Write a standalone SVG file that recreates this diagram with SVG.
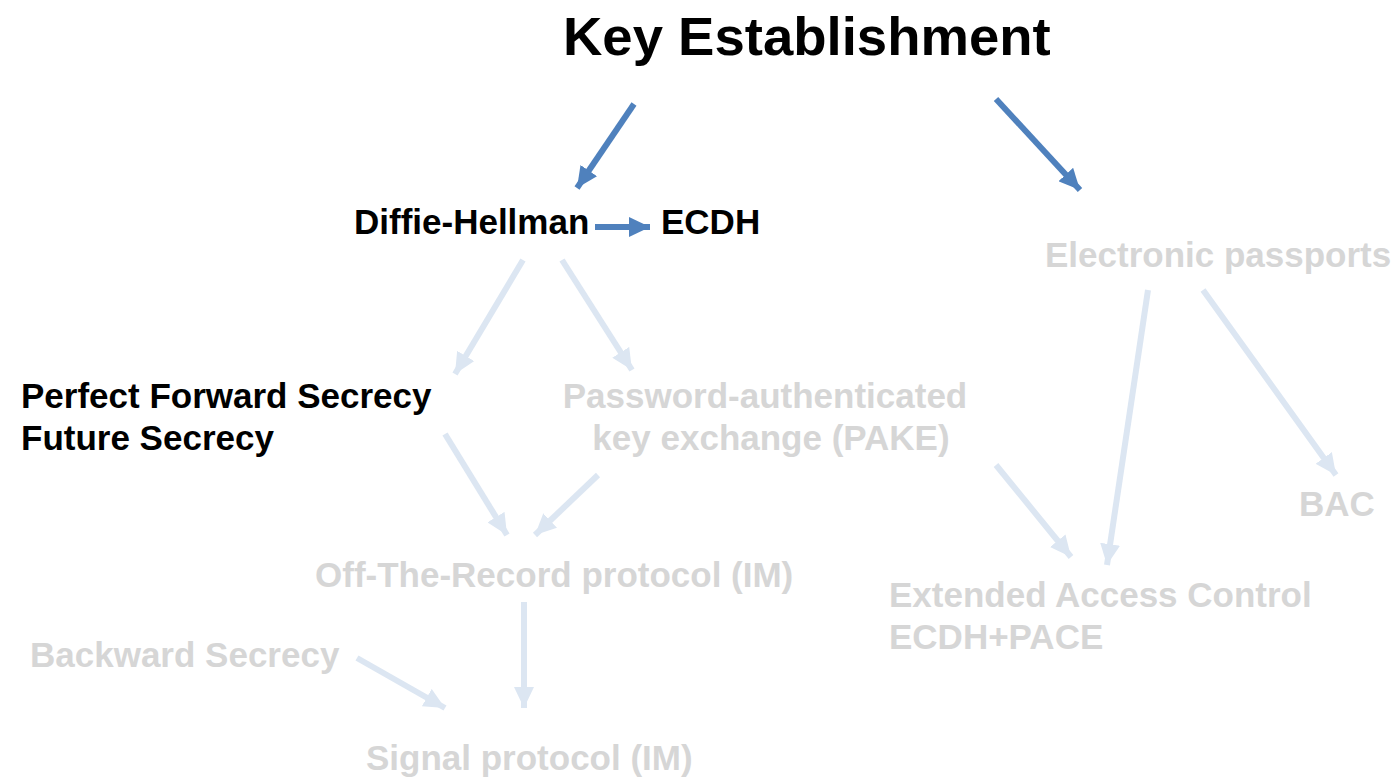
<svg xmlns="http://www.w3.org/2000/svg" width="1394" height="777" viewBox="0 0 1394 777">
<style>
text{font-family:"Liberation Sans",Arial,sans-serif;font-weight:bold}
.t{font-size:54.5px;fill:#000}
.b{font-size:35px;fill:#000}
.f{font-size:35px;fill:#D6D6D6}
.a{stroke:#4F81BD;stroke-width:6;fill:none;marker-end:url(#hb)}
.l{stroke:#DCE6F2;stroke-width:6;fill:none;marker-end:url(#hl)}
</style>
<defs>
<marker id="hb" markerUnits="userSpaceOnUse" markerWidth="22" markerHeight="20" refX="21" refY="10" orient="auto" viewBox="0 0 22 20"><path d="M0,0 L21,10 L0,20 z" fill="#4F81BD"/></marker>
<marker id="hl" markerUnits="userSpaceOnUse" markerWidth="22" markerHeight="20" refX="21" refY="10" orient="auto" viewBox="0 0 22 20"><path d="M0,0 L21,10 L0,20 z" fill="#DCE6F2"/></marker>
</defs>
<rect width="1394" height="777" fill="#fff"/>
<g id="connectors">
<line class="a" x1="634" y1="104" x2="577" y2="188"/>
<line class="a" x1="996" y1="99" x2="1080" y2="190"/>
<line class="a" x1="595" y1="227" x2="650" y2="227"/>
<line class="l" x1="523" y1="260" x2="455" y2="374"/>
<line class="l" x1="562" y1="260" x2="632" y2="370"/>
<line class="l" x1="445" y1="434" x2="507" y2="535"/>
<line class="l" x1="598" y1="475" x2="535" y2="535"/>
<line class="l" x1="524" y1="602" x2="524" y2="708"/>
<line class="l" x1="357" y1="658" x2="445" y2="708"/>
<line class="l" x1="1148" y1="290" x2="1107" y2="565"/>
<line class="l" x1="1203" y1="290" x2="1336" y2="475"/>
<line class="l" x1="996" y1="465" x2="1071" y2="557"/>
</g>
<g id="title"><text class="t" x="563" y="55">Key Establishment</text></g>
<g id="dh"><text class="b" x="354" y="234">Diffie-Hellman</text></g>
<g id="ecdh"><text class="b" x="661" y="234">ECDH</text></g>
<g id="epass"><text class="f" x="1045" y="267">Electronic passports</text></g>
<g id="pfs"><text class="b" x="21" y="408">Perfect Forward Secrecy</text><text class="b" x="21" y="450">Future Secrecy</text></g>
<g id="pake"><text class="f" x="765" y="408" text-anchor="middle">Password-authenticated</text><text class="f" x="771" y="450" text-anchor="middle">key exchange (PAKE)</text></g>
<g id="bac"><text class="f" x="1299" y="516">BAC</text></g>
<g id="otr"><text class="f" x="315" y="587">Off-The-Record protocol (IM)</text></g>
<g id="eac"><text class="f" x="889" y="607">Extended Access Control</text><text class="f" x="889" y="649">ECDH+PACE</text></g>
<g id="bs"><text class="f" x="30" y="667">Backward Secrecy</text></g>
<g id="signal"><text class="f" x="366" y="770">Signal protocol (IM)</text></g>
</svg>
